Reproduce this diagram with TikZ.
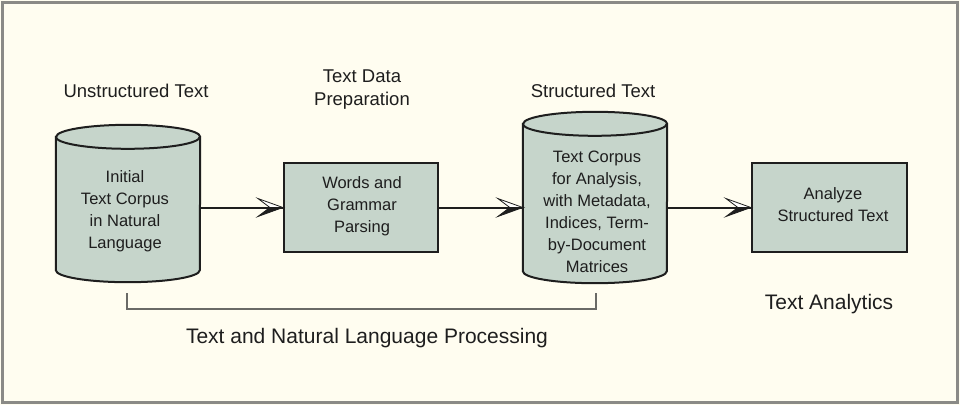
\documentclass[tikz,border=0pt]{standalone}
\usepackage{fontspec}
\setmainfont{Liberation Sans}
\usetikzlibrary{calc}
\definecolor{bgcream}{HTML}{FFFDF0}
\definecolor{framegray}{HTML}{8A8A86}
\definecolor{boxfill}{HTML}{C6D5CB}
\definecolor{inkdark}{HTML}{1E1E1E}
\definecolor{brgray}{HTML}{6A6A66}
\tikzset{
  titletext/.style={font=\fontsize{18.5}{23}\selectfont, text=inkdark, align=center, inner sep=0pt},
  boxtext/.style={font=\fontsize{16.5}{22}\selectfont, text=inkdark, align=center, inner sep=0pt},
  bigtext/.style={font=\fontsize{21}{24}\selectfont, text=inkdark, inner sep=0pt},
  procbox/.style={draw=inkdark, line width=2.2pt, fill=boxfill, inner sep=0pt},
  cylbody/.style={inner sep=0pt},
  cylshape/.style={draw=inkdark, line width=2pt, fill=boxfill},
  flow/.style={draw=inkdark, line width=2pt},
  bracketline/.style={draw=brgray, line width=1.2pt},
  halftip/.pic={
    \filldraw[fill=white, draw=inkdark, line width=0.8pt, line join=miter] (0,0) -- (-25,-9) -- (-13,0) -- cycle;
    \filldraw[fill=inkdark, draw=inkdark, line width=0.8pt, line join=miter] (0,0) -- (-25,9) -- (-13,0) -- cycle;
  }
}
\begin{document}
\begin{tikzpicture}[x=1pt,y=-1pt]
\useasboundingbox (0,0) rectangle (960,405);
\fill[bgcream] (0,0) rectangle (960,405);
\draw[framegray, line width=2.2pt] (2.5,2.5) rectangle (957.5,402.5);

% titles
\node[titletext, anchor=base] (t1) at (136,97) {Unstructured Text};
\node[titletext, anchor=base] (t2) at (362,82) {Text Data};
\node[titletext, anchor=base] (t2b) at (362,105) {Preparation};
\node[titletext, anchor=base] (t3) at (593,97) {Structured Text};

% cylinder 1
\node[cylbody, minimum width=144pt, minimum height=133pt] (c1) at (128,203.5) {};
\path[cylshape] (c1.north west) -- (c1.south west)
  arc[start angle=180, end angle=0, x radius=72, y radius=12] -- (c1.north east)
  arc[start angle=0, end angle=-180, x radius=72, y radius=12] -- cycle;
\draw[inkdark, line width=2pt] (c1.north west) arc[start angle=180, end angle=0, x radius=72, y radius=12];
\node[boxtext] (c1t) at (125,211) {Initial\\Text Corpus\\in Natural\\Language};

% box 2
\node[procbox, minimum width=154pt, minimum height=89pt] (b2) at (361,207.5) {};
\node[boxtext] (b2t) at (362,206) {Words and\\Grammar\\Parsing};

% cylinder 2
\node[cylbody, minimum width=144pt, minimum height=147pt] (c2) at (595,197.5) {};
\path[cylshape] (c2.north west) -- (c2.south west)
  arc[start angle=180, end angle=0, x radius=72, y radius=12] -- (c2.north east)
  arc[start angle=0, end angle=-180, x radius=72, y radius=12] -- cycle;
\draw[inkdark, line width=2pt] (c2.north west) arc[start angle=180, end angle=0, x radius=72, y radius=12];
\node[boxtext] (c2t) at (597,212) {Text Corpus\\for Analysis,\\with Metadata,\\Indices, Term-\\by-Document\\Matrices};

% box 4
\node[procbox, minimum width=155pt, minimum height=89pt] (b4) at (829.5,207.5) {};
\node[boxtext] (b4t) at (833,205) {Analyze\\Structured Text};

% connectors
\draw[flow] (c1.east |- b2.west) -- (b2.west);
\pic at (b2.west) {halftip};
\draw[flow] (b2.east) -- (c2.west |- b2.east);
\pic at (c2.west |- b2.east) {halftip};
\draw[flow] (c2.east |- b4.west) -- (b4.west);
\pic at (b4.west) {halftip};

% bracket
\coordinate (bl) at (127,293);
\coordinate (br) at (596,293);
\draw[bracketline] (bl) -- ++(0,16) -| (br);

% bottom labels
\node[bigtext, anchor=base] (lab1) at (367,343) {Text and Natural Language Processing};
\node[bigtext, anchor=base] (lab2) at (829,309) {Text Analytics};
\end{tikzpicture}
\end{document}
